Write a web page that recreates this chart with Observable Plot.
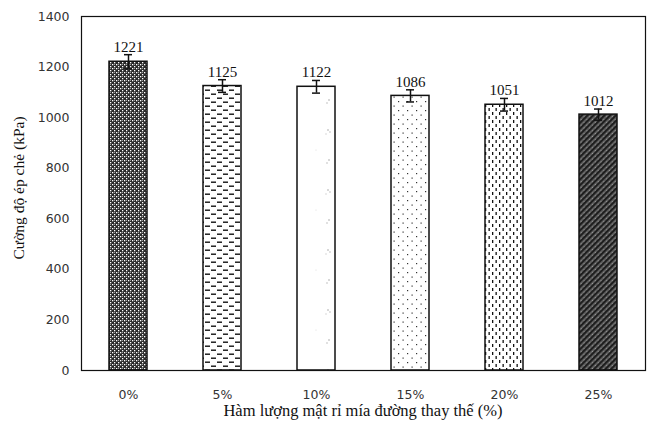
<!DOCTYPE html>
<html>
<head>
<meta charset="utf-8">
<script src="https://cdn.jsdelivr.net/npm/d3@7"></script>
<script src="https://cdn.jsdelivr.net/npm/@observablehq/plot@0.6"></script>
<style>
  body { margin: 0; background: #fff; }
  #chart svg { display: block; }
</style>
</head>
<body>
<div id="chart"></div>
<script>
const categories = ["0%", "5%", "10%", "15%", "20%", "25%"];
const values = [1221, 1125, 1122, 1086, 1051, 1012];
const errors = [28, 25, 25, 24, 25, 22];
const patterns = ["p0", "p1", "p2", "p3", "p4", "p5"];
const yTicks = [0, 200, 400, 600, 800, 1000, 1200, 1400];
const xTitle = "Hàm lượng mật rỉ mía đường thay thế (%)";
const yTitle = "Cường độ ép chẻ (kPa)";

const data = categories.map((c, i) => ({cat: c, v: values[i], e: errors[i], fill: `url(#${patterns[i]})`}));

const plot = Plot.plot({
  width: 650,
  height: 426,
  marginLeft: 81,
  marginRight: 5,
  marginTop: 16,
  marginBottom: 56,
  style: {fontFamily: "DejaVu Sans", fontSize: "12.5px", background: "#fff", color: "#333"},
  x: {domain: categories, paddingInner: 0.6, paddingOuter: 0.3, label: null, tickSize: 0, tickPadding: 20},
  y: {domain: [0, 1400], ticks: yTicks, tickFormat: d => String(d), label: null, tickSize: 0, tickPadding: 12},
  marks: [
    Plot.barY(data, {x: "cat", y: "v", fill: "fill", stroke: "#111", strokeWidth: 1.5}),
    Plot.ruleX(data, {x: "cat", y1: d => d.v - d.e, y2: d => d.v + d.e, stroke: "#111", strokeWidth: 1.5}),
    Plot.tickY(data, {x: "cat", y: d => d.v + d.e, stroke: "#111", strokeWidth: 1.5, insetLeft: 15, insetRight: 15}),
    Plot.tickY(data, {x: "cat", y: d => d.v - d.e, stroke: "#111", strokeWidth: 1.5, insetLeft: 15, insetRight: 15}),
    Plot.text(data, {x: "cat", y: d => d.v + d.e, text: d => String(d.v), dy: -3, lineAnchor: "bottom", fontFamily: "Liberation Serif", fontSize: 15, fill: "#111"}),
    Plot.frame({stroke: "#111", strokeWidth: 1.2})
  ]
});

// patterns
const ns = "http://www.w3.org/2000/svg";
const defs = document.createElementNS(ns, "defs");
defs.innerHTML = `
  <pattern id="p0" width="4" height="4" patternUnits="userSpaceOnUse">
    <rect width="4" height="4" fill="#2a2a2a"/>
    <rect x="0" y="0" width="1.3" height="1.3" fill="#fff"/>
    <rect x="2" y="2" width="1.3" height="1.3" fill="#fff"/>
    <rect x="2" y="0" width="1" height="1" fill="#999"/>
  </pattern>
  <pattern id="p1" width="12" height="8" patternUnits="userSpaceOnUse">
    <rect width="12" height="8" fill="#fff"/>
    <rect x="1" y="1.5" width="5" height="1.4" fill="#111"/>
    <rect x="7" y="5.5" width="5" height="1.4" fill="#111"/>
  </pattern>
  <pattern id="p2" width="38" height="60" patternUnits="userSpaceOnUse">
    <rect width="38" height="60" fill="#fff"/>
    <circle cx="24" cy="10" r="1" fill="#ccc"/>
    <circle cx="26" cy="12" r="0.8" fill="#bbb"/>
    <circle cx="22" cy="14" r="0.7" fill="#ccc"/>
    <circle cx="25" cy="40" r="1" fill="#ccc"/>
    <circle cx="23" cy="43" r="0.8" fill="#bbb"/>
    <circle cx="12" cy="30" r="0.6" fill="#ddd"/>
  </pattern>
  <pattern id="p3" width="9" height="9" patternUnits="userSpaceOnUse">
    <rect width="9" height="9" fill="#fff"/>
    <rect x="2" y="2" width="1.2" height="1.2" fill="#333"/>
    <rect x="6.5" y="6.5" width="1.2" height="1.2" fill="#333"/>
  </pattern>
  <pattern id="p4" width="7" height="8" patternUnits="userSpaceOnUse">
    <rect width="7" height="8" fill="#fff"/>
    <rect x="2" y="0" width="1.3" height="3" fill="#111"/>
    <rect x="5.5" y="4" width="1.3" height="3" fill="#111"/>
  </pattern>
  <pattern id="p5" width="4" height="4" patternUnits="userSpaceOnUse" patternTransform="rotate(45)">
    <rect width="4" height="4" fill="#666"/>
    <rect x="0" y="0" width="2.2" height="4" fill="#1e1e1e"/>
    <rect x="3" y="1" width="0.8" height="0.8" fill="#bbb"/>
  </pattern>`;
plot.insertBefore(defs, plot.firstChild);

// axis titles
const xt = document.createElementNS(ns, "text");
xt.setAttribute("x", (81 + 645) / 2);
xt.setAttribute("y", 416);
xt.setAttribute("text-anchor", "middle");
xt.setAttribute("font-family", "Liberation Serif");
xt.setAttribute("font-size", "16.5");
xt.setAttribute("fill", "#111");
xt.textContent = xTitle;
plot.appendChild(xt);

const yt = document.createElementNS(ns, "text");
yt.setAttribute("transform", "translate(24,188) rotate(-90)");
yt.setAttribute("text-anchor", "middle");
yt.setAttribute("font-family", "Liberation Serif");
yt.setAttribute("font-size", "15.5");
yt.setAttribute("fill", "#111");
yt.textContent = yTitle;
plot.appendChild(yt);

document.getElementById("chart").appendChild(plot);
</script>
</body>
</html>
